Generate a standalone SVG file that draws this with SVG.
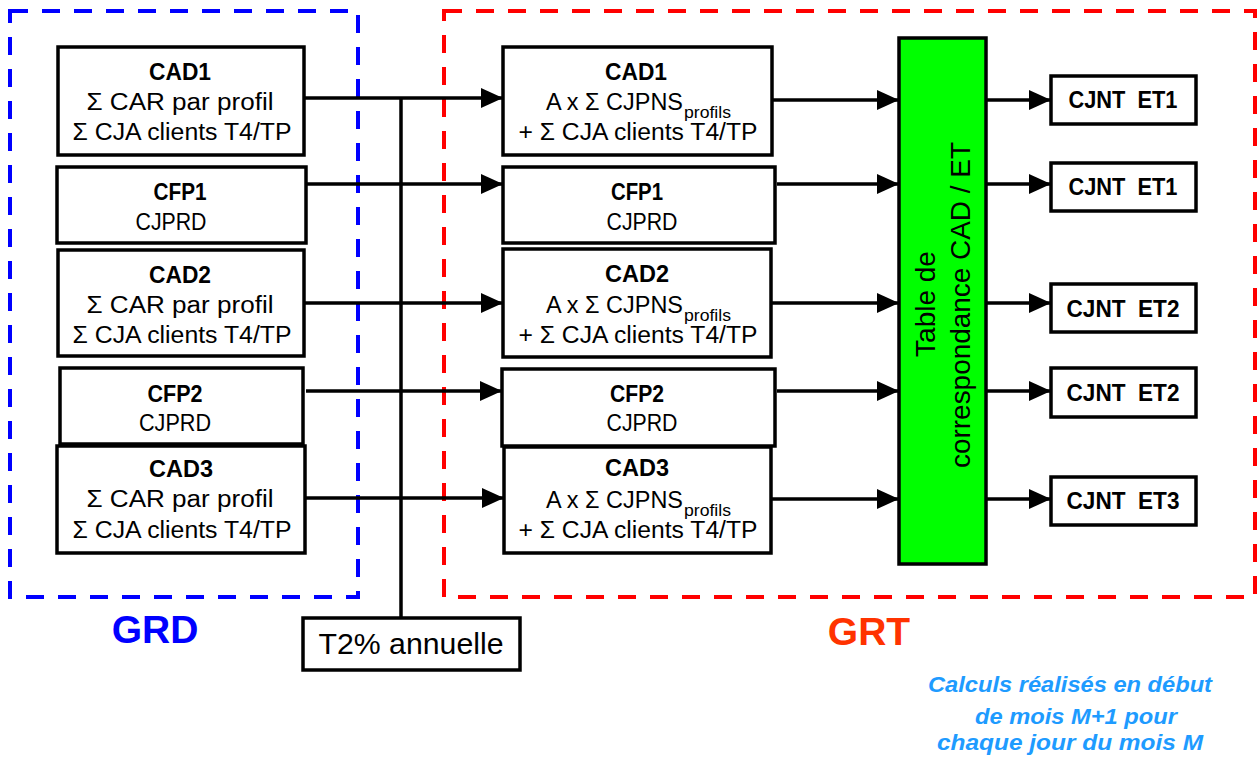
<svg xmlns="http://www.w3.org/2000/svg" width="1257" height="758" viewBox="0 0 1257 758">
<defs>
<style>
.box{fill:#fff;stroke:#000;stroke-width:3.5}
.t{font-family:"Liberation Sans",Arial,sans-serif;font-size:23px;fill:#000}
.b{font-weight:bold}
.m{text-anchor:middle}
.sub{font-family:"Liberation Sans",Arial,sans-serif;font-size:16px;fill:#000}
.ln{stroke:#000;stroke-width:3.5;fill:none}
.arr{marker-end:url(#ah)}
.dash{fill:none;stroke-width:4;stroke-dasharray:18 14}
</style>
<marker id="ah" markerUnits="userSpaceOnUse" markerWidth="22" markerHeight="20" refX="22" refY="10" orient="auto">
<path d="M0,0 L22,10 L0,20 Z" fill="#000"/>
</marker>
</defs>
<rect width="1257" height="758" fill="#fff"/>

<g id="zones">
<rect class="dash" x="10" y="11" width="348" height="586" stroke="#0000FF"/>
<rect class="dash" x="444" y="11" width="811" height="586" stroke="#FF0000"/>
<text x="155" y="643" font-family="Liberation Sans,Arial,sans-serif" font-size="39" font-weight="bold" fill="#0000FF" text-anchor="middle">GRD</text>
<text x="869" y="645" font-family="Liberation Sans,Arial,sans-serif" font-size="39" font-weight="bold" fill="#FF3300" text-anchor="middle">GRT</text>
</g>

<g id="connectors">
<line class="ln" x1="401" y1="98" x2="401" y2="618"/>
<line class="ln arr" x1="304" y1="98" x2="503" y2="98"/>
<line class="ln arr" x1="306" y1="184" x2="503" y2="184"/>
<line class="ln arr" x1="305" y1="303" x2="503" y2="303"/>
<line class="ln arr" x1="306" y1="391" x2="502" y2="391"/>
<line class="ln arr" x1="305" y1="498" x2="504" y2="498"/>
<line class="ln arr" x1="772" y1="100" x2="899" y2="100"/>
<line class="ln arr" x1="777" y1="184" x2="899" y2="184"/>
<line class="ln arr" x1="771" y1="303" x2="899" y2="303"/>
<line class="ln arr" x1="777" y1="391" x2="899" y2="391"/>
<line class="ln arr" x1="771" y1="499" x2="899" y2="499"/>
<line class="ln arr" x1="986" y1="100" x2="1051" y2="100"/>
<line class="ln arr" x1="986" y1="184" x2="1051" y2="184"/>
<line class="ln arr" x1="986" y1="303" x2="1051" y2="303"/>
<line class="ln arr" x1="986" y1="391" x2="1051" y2="391"/>
<line class="ln arr" x1="986" y1="499" x2="1051" y2="499"/>
</g>

<g id="grd-cad1">
<rect class="box" x="58" y="47" width="246" height="108"/>
<text class="t b m" x="180" y="80" textLength="62" lengthAdjust="spacingAndGlyphs">CAD1</text>
<text class="t m" x="180" y="110" textLength="187" lengthAdjust="spacingAndGlyphs">Σ CAR par profil</text>
<text class="t m" x="182" y="140" textLength="219" lengthAdjust="spacingAndGlyphs">Σ CJA clients T4/TP</text>
</g>
<g id="grd-cfp1">
<rect class="box" x="57" y="167" width="249" height="76"/>
<text class="t b m" x="180" y="200" textLength="53" lengthAdjust="spacingAndGlyphs">CFP1</text>
<text class="t m" x="171" y="230" textLength="71" lengthAdjust="spacingAndGlyphs">CJPRD</text>
</g>
<g id="grd-cad2">
<rect class="box" x="58" y="250" width="246" height="106"/>
<text class="t b m" x="180" y="283" textLength="62" lengthAdjust="spacingAndGlyphs">CAD2</text>
<text class="t m" x="180" y="313" textLength="187" lengthAdjust="spacingAndGlyphs">Σ CAR par profil</text>
<text class="t m" x="182" y="343" textLength="219" lengthAdjust="spacingAndGlyphs">Σ CJA clients T4/TP</text>
</g>
<g id="grd-cfp2">
<rect class="box" x="60" y="368" width="243" height="76"/>
<text class="t b m" x="175" y="402" textLength="55" lengthAdjust="spacingAndGlyphs">CFP2</text>
<text class="t m" x="175" y="431" textLength="72" lengthAdjust="spacingAndGlyphs">CJPRD</text>
</g>
<g id="grd-cad3">
<rect class="box" x="57" y="446" width="248" height="107"/>
<text class="t b m" x="181" y="477" textLength="64" lengthAdjust="spacingAndGlyphs">CAD3</text>
<text class="t m" x="180" y="507" textLength="187" lengthAdjust="spacingAndGlyphs">Σ CAR par profil</text>
<text class="t m" x="182" y="538" textLength="219" lengthAdjust="spacingAndGlyphs">Σ CJA clients T4/TP</text>
</g>

<g id="grt-cad1">
<rect class="box" x="503" y="47" width="269" height="108"/>
<text class="t b m" x="636" y="80" textLength="62" lengthAdjust="spacingAndGlyphs">CAD1</text>
<text class="t" x="546" y="110" textLength="137" lengthAdjust="spacingAndGlyphs">A x Σ CJPNS</text>
<text class="sub" x="684" y="118" textLength="47" lengthAdjust="spacingAndGlyphs">profils</text>
<text class="t m" x="638" y="140" textLength="239" lengthAdjust="spacingAndGlyphs">+ Σ CJA clients T4/TP</text>
</g>
<g id="grt-cfp1">
<rect class="box" x="503" y="167" width="272" height="76"/>
<text class="t b m" x="637" y="200" textLength="52" lengthAdjust="spacingAndGlyphs">CFP1</text>
<text class="t m" x="642" y="230" textLength="71" lengthAdjust="spacingAndGlyphs">CJPRD</text>
</g>
<g id="grt-cad2">
<rect class="box" x="503" y="249" width="268" height="108"/>
<text class="t b m" x="637" y="282" textLength="64" lengthAdjust="spacingAndGlyphs">CAD2</text>
<text class="t" x="546" y="313" textLength="137" lengthAdjust="spacingAndGlyphs">A x Σ CJPNS</text>
<text class="sub" x="684" y="321" textLength="47" lengthAdjust="spacingAndGlyphs">profils</text>
<text class="t m" x="638" y="343" textLength="239" lengthAdjust="spacingAndGlyphs">+ Σ CJA clients T4/TP</text>
</g>
<g id="grt-cfp2">
<rect class="box" x="502" y="369" width="273" height="77"/>
<text class="t b m" x="637" y="402" textLength="54" lengthAdjust="spacingAndGlyphs">CFP2</text>
<text class="t m" x="642" y="431" textLength="71" lengthAdjust="spacingAndGlyphs">CJPRD</text>
</g>
<g id="grt-cad3">
<rect class="box" x="504" y="447" width="267" height="106"/>
<text class="t b m" x="637" y="476" textLength="64" lengthAdjust="spacingAndGlyphs">CAD3</text>
<text class="t" x="546" y="508" textLength="137" lengthAdjust="spacingAndGlyphs">A x Σ CJPNS</text>
<text class="sub" x="684" y="516" textLength="47" lengthAdjust="spacingAndGlyphs">profils</text>
<text class="t m" x="638" y="538" textLength="239" lengthAdjust="spacingAndGlyphs">+ Σ CJA clients T4/TP</text>
</g>

<g id="table">
<rect x="899" y="38" width="87" height="526" fill="#00FF00" stroke="#000" stroke-width="3.5"/>
<text class="t m" font-size="28" transform="translate(935,304) rotate(-90)" style="font-size:28px">Table de</text>
<text class="t m" transform="translate(970,305) rotate(-90)" style="font-size:28px" textLength="326" lengthAdjust="spacingAndGlyphs">correspondance CAD / ET</text>
</g>

<g id="cjnt1">
<rect class="box" x="1051" y="76" width="145" height="48"/>
<text class="t b m" x="1123" y="108" textLength="109" lengthAdjust="spacingAndGlyphs" xml:space="preserve">CJNT  ET1</text>
</g>
<g id="cjnt2">
<rect class="box" x="1051" y="163" width="145" height="48"/>
<text class="t b m" x="1123" y="195" textLength="109" lengthAdjust="spacingAndGlyphs" xml:space="preserve">CJNT  ET1</text>
</g>
<g id="cjnt3">
<rect class="box" x="1051" y="284" width="145" height="48"/>
<text class="t b m" x="1123" y="317" textLength="113" lengthAdjust="spacingAndGlyphs" xml:space="preserve">CJNT  ET2</text>
</g>
<g id="cjnt4">
<rect class="box" x="1051" y="368" width="145" height="49"/>
<text class="t b m" x="1123" y="401" textLength="113" lengthAdjust="spacingAndGlyphs" xml:space="preserve">CJNT  ET2</text>
</g>
<g id="cjnt5">
<rect class="box" x="1051" y="477" width="145" height="48"/>
<text class="t b m" x="1123" y="509" textLength="113" lengthAdjust="spacingAndGlyphs" xml:space="preserve">CJNT  ET3</text>
</g>

<g id="t2">
<rect class="box" x="303" y="618" width="217" height="52"/>
<text class="t m" x="411" y="654" style="font-size:29px" textLength="185" lengthAdjust="spacingAndGlyphs">T2% annuelle</text>
</g>

<g id="note" font-family="Liberation Sans,Arial,sans-serif" font-size="22" font-weight="bold" font-style="italic" fill="#1E9BFF" text-anchor="middle">
<text x="1070" y="692" textLength="284" lengthAdjust="spacingAndGlyphs">Calculs réalisés en début</text>
<text x="1076" y="724" textLength="202" lengthAdjust="spacingAndGlyphs">de mois M+1 pour</text>
<text x="1070" y="750" textLength="266" lengthAdjust="spacingAndGlyphs">chaque jour du mois M</text>
</g>
</svg>
